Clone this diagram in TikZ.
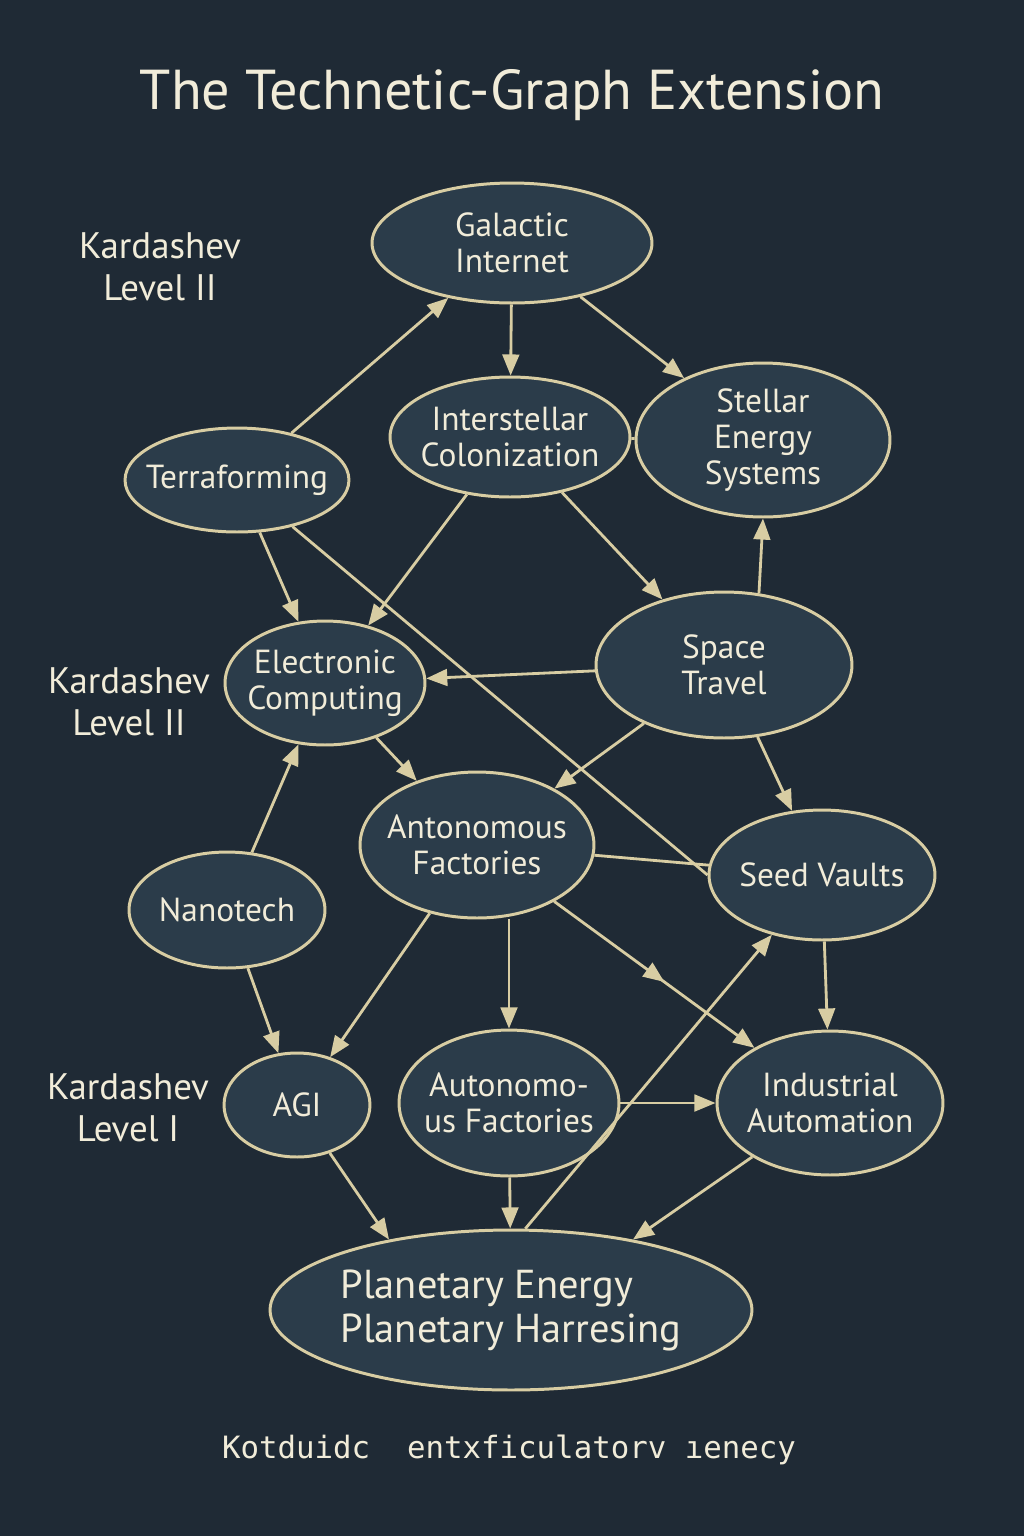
\documentclass[tikz,border=0pt]{standalone}
\usepackage{fontspec}
\setmainfont{PT Sans}
\newfontfamily\footmono{DejaVu Sans Mono}
\usetikzlibrary{shapes.geometric}
\usetikzlibrary{arrows.meta}
\usetikzlibrary{decorations.markings}
\definecolor{bgcol}{HTML}{1F2A35}
\definecolor{nodecol}{HTML}{2B3C4A}
\definecolor{linecol}{HTML}{D8CDA3}
\definecolor{textcol}{HTML}{F1ECD9}

\begin{document}
\begin{tikzpicture}[x=0.02cm,y=-0.02cm,>={Triangle[length=12pt,width=9.5pt]}]
	\tikzstyle{tech}=[ellipse,draw=linecol,line width=1.7pt,fill=nodecol,inner sep=0pt]
	\tikzstyle{tech text}=[text=textcol,align=center,font=\fontsize{19}{20.5}\selectfont]
	\tikzstyle{level}=[text=textcol,align=center,font=\fontsize{21}{24}\selectfont]
	\tikzstyle{link}=[color=linecol,line width=1.6pt,->]
	\tikzstyle{plain link}=[color=linecol,line width=1.6pt]
	\tikzstyle{mid arrow}=[postaction={decorate},decoration={markings,mark=at position 0.55 with {\arrow{>}}}]
	
	% Background
	\fill[bgcol] (0,0) rectangle (1024,1536);
	
	% Title and level labels
	\node[text=textcol,font=\fontsize{32}{38}\selectfont] (title) at (512,95) {The Technetic-Graph Extension};
	\node[level] (lvl-2a) at (160,267) {Kardashev\\Level II};
	\node[level] (lvl-2b) at (129,702) {Kardashev\\Level II};
	\node[level] (lvl-1) at (128,1108) {Kardashev\\Level I};
	
	% Draw the technology nodes
	\node[tech,minimum width=5.6cm,minimum height=2.4cm,label={[tech text]center:Galactic\\Internet}] (gi) at (512,243) {};
	\node[tech,minimum width=4.8cm,minimum height=2.4cm,label={[tech text]center:Interstellar\\Colonization}] (ic) at (510,437) {};
	\node[tech,minimum width=5.08cm,minimum height=3.08cm,label={[tech text]center:Stellar\\Energy\\Systems}] (se) at (763,440) {};
	\node[tech,minimum width=4.48cm,minimum height=2.08cm,label={[tech text]center:Terraforming}] (tf) at (237,480) {};
	\node[tech,minimum width=4.0cm,minimum height=2.48cm,label={[tech text]center:Electronic\\Computing}] (ec) at (325,683) {};
	\node[tech,minimum width=5.12cm,minimum height=2.92cm,label={[tech text]center:Space\\Travel}] (st) at (724,665) {};
	\node[tech,minimum width=4.68cm,minimum height=2.92cm,label={[tech text]center:Antonomous\\Factories}] (af) at (477,845) {};
	\node[tech,minimum width=4.52cm,minimum height=2.6cm,label={[tech text]center:Seed Vaults}] (sv) at (822,875) {};
	\node[tech,minimum width=3.92cm,minimum height=2.32cm,label={[tech text]center:Nanotech}] (nt) at (227,910) {};
	\node[tech,minimum width=2.92cm,minimum height=2.08cm,label={[tech text]center:AGI}] (agi) at (297,1105) {};
	\node[tech,minimum width=4.4cm,minimum height=2.92cm,label={[tech text]center:Autonomo-\\us Factories}] (au) at (509,1103) {};
	\node[tech,minimum width=4.52cm,minimum height=2.88cm,label={[tech text]center:Industrial\\Automation}] (ia) at (830,1103) {};
	\node[tech,minimum width=9.64cm,minimum height=3.2cm,label={[tech text,align=left,font=\fontsize{23}{25}\selectfont]center:Planetary Energy\\Planetary Harresing}] (pe) at (511,1310) {};
	
	% Connect the nodes
	\foreach \source/\dest in {tf/gi,gi/ic,gi/se,tf/ec,ic/ec,ic/st,st/ec,st/af,st/sv,ec/af,nt/ec,nt/agi,af/agi,sv/ia,au/ia,au/pe}
	\path[link] (\source) edge (\dest);
	
	\path[link] (st.64) edge (se.south);
	\path[link] (af.south -| au.north) edge (au.north);
	\path[link] (agi) edge (pe.150);
	\path[link] (ia) edge (pe.30);
	\path[link] (pe.80) edge (sv);
	\draw[link,mid arrow] (af) -- (ia);
	
	% Plain links
	\path[plain link] (tf) edge (sv.west);
	\path[plain link] (af) edge (sv);
	\path[plain link] (ic) edge (se);
	
	% Footer
	\node[text=textcol,font=\footmono\fontsize{17.5}{20}\selectfont] (foot) at (509,1450) {Kotduidc\ \ entxficulatorv ıenecy};
	
\end{tikzpicture}
\end{document}
